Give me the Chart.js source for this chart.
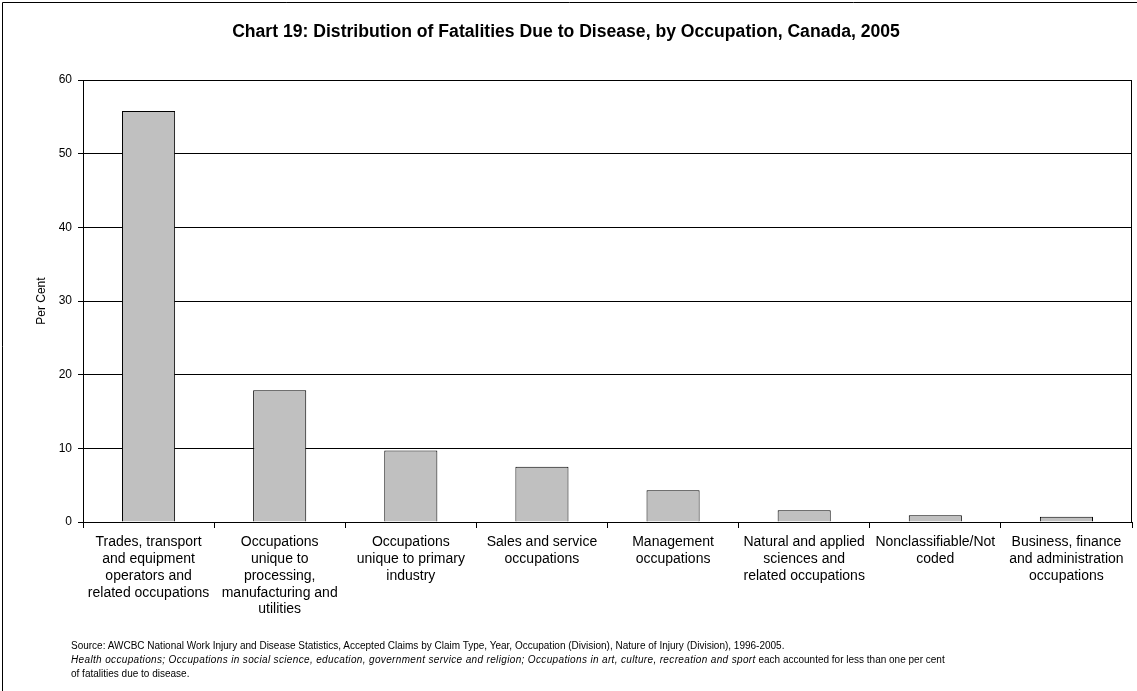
<!DOCTYPE html>
<html>
<head>
<meta charset="utf-8">
<title>Chart 19</title>
<script src="https://cdn.jsdelivr.net/npm/chart.js@4.4.0/dist/chart.umd.min.js"></script>
<style>
  body { margin: 0; background: #fff; }
  #wrap { position: relative; width: 1137px; height: 691px; overflow: hidden; }
  #note {
    position: absolute; left: 71px; top: 639px;
    font: 10px 'Liberation Sans', Arial, sans-serif; line-height: 14px; color: #000;
    white-space: nowrap;
  }
  #note i { letter-spacing: 0.35px; }
</style>
</head>
<body>
<div id="wrap">
  <canvas id="chart" width="1137" height="691"></canvas>
  <div id="note">Source: AWCBC National Work Injury and Disease Statistics, Accepted Claims by Claim Type, Year, Occupation (Division), Nature of Injury (Division), 1996-2005.<br><i>Health occupations; Occupations in social science, education, government service and religion; Occupations in art, culture, recreation and sport</i> each accounted for less than one per cent<br>of fatalities due to disease.</div>
</div>
<script>
// occupation categories (multi-line labels as in the original)
const occupations = [
    ['Trades, transport', 'and equipment', 'operators and', 'related occupations'],
    ['Occupations', 'unique to', 'processing,', 'manufacturing and', 'utilities'],
    ['Occupations', 'unique to primary', 'industry'],
    ['Sales and service', 'occupations'],
    ['Management', 'occupations'],
    ['Natural and applied', 'sciences and', 'related occupations'],
    ['Nonclassifiable/Not', 'coded'],
    ['Business, finance', 'and administration', 'occupations']
];
// per cent of fatalities due to disease
const perCent = [55.8, 17.9, 9.7, 7.5, 4.3, 1.6, 0.9, 0.7];
const yTicks = [0, 10, 20, 30, 40, 50, 60];

// white background, outer frame and plot border
const framePlugin = {
    id: 'frame',
    beforeDraw(chart) {
        const ctx = chart.ctx;
        ctx.save();
        ctx.fillStyle = '#fff';
        ctx.fillRect(0, 0, chart.width, chart.height);
        ctx.strokeStyle = '#000';
        ctx.lineWidth = 1;
        ctx.beginPath();
        ctx.moveTo(2.5, chart.height);
        ctx.lineTo(2.5, 2.5);
        ctx.lineTo(chart.width, 2.5);
        ctx.stroke();
        ctx.restore();
    },
    afterDraw(chart) {
        const a = chart.chartArea;
        const ctx = chart.ctx;
        ctx.save();
        ctx.strokeStyle = '#000';
        ctx.lineWidth = 1;
        ctx.beginPath();
        ctx.moveTo(Math.round(a.right) - 0.5, a.top);
        ctx.lineTo(Math.round(a.right) - 0.5, a.bottom);
        ctx.stroke();
        ctx.restore();
    }
};

const ctx = document.getElementById('chart').getContext('2d');
new Chart(ctx, {
    type: 'bar',
    data: {
        labels: occupations,
        datasets: [{
            data: perCent,
            backgroundColor: '#c0c0c0',
            borderColor: '#000',
            borderWidth: 1,
            barPercentage: 0.405,
            categoryPercentage: 1
        }]
    },
    options: {
        responsive: false,
        animation: false,
        layout: { padding: { top: 0, left: 0, right: 5, bottom: 0 } },
        plugins: {
            legend: { display: false },
            tooltip: { enabled: false },
            title: {
                display: true,
                text: 'Chart 19: Distribution of Fatalities Due to Disease, by Occupation, Canada, 2005',
                color: '#000',
                font: { family: "'Liberation Sans', Arial, sans-serif", size: 17.6, weight: 'bold', lineHeight: 1.2 },
                padding: { top: 22, bottom: 37 }
            }
        },
        scales: {
            x: {
                afterFit(scale) { scale.height = 169; },
                grid: { offset: true, drawOnChartArea: false, tickLength: 6, color: '#000' },
                border: { color: '#000' },
                ticks: {
                    autoSkip: false,
                    maxRotation: 0,
                    padding: 6,
                    color: '#000',
                    font: { family: "'Liberation Sans', Arial, sans-serif", size: 14, lineHeight: 1.2 }
                }
            },
            y: {
                min: 0,
                max: 60,
                afterFit(scale) { scale.width = 83; },
                afterBuildTicks(scale) { scale.ticks = yTicks.map(v => ({ value: v })); },
                grid: { color: '#000', tickLength: 5 },
                border: { color: '#000' },
                ticks: {
                    padding: 6,
                    color: '#000',
                    font: { family: "'Liberation Sans', Arial, sans-serif", size: 12 }
                },
                title: {
                    display: true,
                    text: 'Per Cent',
                    color: '#000',
                    font: { family: "'Liberation Sans', Arial, sans-serif", size: 12 },
                    padding: { top: 34, bottom: 0 }
                }
            }
        }
    },
    plugins: [framePlugin]
});
</script>
</body>
</html>
